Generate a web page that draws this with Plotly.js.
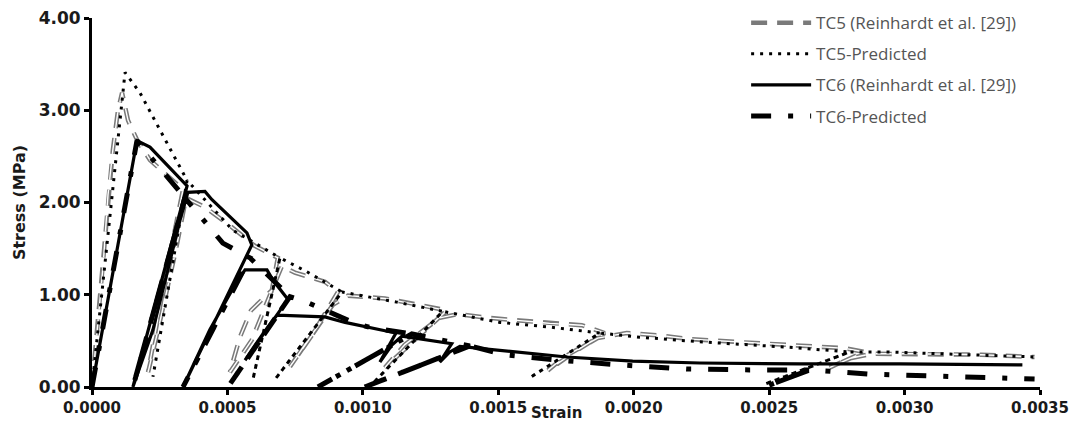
<!DOCTYPE html>
<html>
<head>
<meta charset="utf-8">
<script src="https://cdn.plot.ly/plotly-3.0.1.min.js"></script>
<style>html,body{margin:0;padding:0;background:#fff;}#chart{width:1072px;height:432px;}</style>
</head>
<body>
<div id="chart"></div>
<script>
// TC5 (Reinhardt et al. [29]) - experimental, cyclic
const tc5ExpStrain = [0, 0.000018, 0.000041, 0.000059, 0.000077, 0.000096, 0.000111, 0.000133, 0.000166, 0.000214, 0.000277, 0.000336, 0.000269, 0.000207, 0.000244, 0.000310, 0.000347, 0.000417, 0.000509, 0.000601, 0.000686, 0.000664, 0.000587, 0.000546, 0.000509, 0.000590, 0.000649, 0.000701, 0.000749, 0.000860, 0.000908, 0.000812, 0.000731, 0.000786, 0.000889, 0.000945, 0.001081, 0.001192, 0.001310, 0.001210, 0.001081, 0.001155, 0.001284, 0.001351, 0.001461, 0.001579, 0.001690, 0.001808, 0.001893, 0.001782, 0.001683, 0.001745, 0.001867, 0.001974, 0.002089, 0.002207, 0.002428, 0.002649, 0.002779, 0.002852, 0.002723, 0.002797, 0.002878, 0.003048, 0.003284, 0.003480];
const tc5ExpStress = [0, 0.62, 1.32, 2.08, 2.57, 3.00, 3.19, 2.89, 2.68, 2.46, 2.30, 2.14, 1.16, 0.16, 0.62, 1.49, 2.05, 1.95, 1.75, 1.53, 1.40, 1.05, 0.83, 0.54, 0.16, 0.51, 0.94, 1.31, 1.24, 1.14, 1.03, 0.56, 0.22, 0.46, 0.89, 0.99, 0.96, 0.90, 0.83, 0.56, 0.21, 0.46, 0.75, 0.79, 0.75, 0.72, 0.69, 0.67, 0.585, 0.38, 0.18, 0.33, 0.53, 0.585, 0.56, 0.52, 0.48, 0.44, 0.42, 0.38, 0.21, 0.31, 0.36, 0.36, 0.35, 0.325];

// TC5-Predicted
const tc5PredStrain = [0, 0.000122, 0.000177, 0.000351, 0.000225, 0.000351, 0.000520, 0.000609, 0.000694, 0.000594, 0.000694, 0.000793, 0.000923, 0.000675, 0.000923, 0.001125, 0.001295, 0.001037, 0.001295, 0.001506, 0.001690, 0.001875, 0.001616, 0.001875, 0.002022, 0.002244, 0.002576, 0.002797, 0.002483, 0.002797, 0.002934, 0.003487];
const tc5PredStress = [0, 3.41, 3.19, 2.24, 0.11, 2.24, 1.70, 1.55, 1.40, 0.08, 1.40, 1.25, 1.03, 0.08, 1.03, 0.92, 0.82, 0.04, 0.82, 0.70, 0.65, 0.585, 0.10, 0.585, 0.54, 0.49, 0.43, 0.38, 0.03, 0.38, 0.38, 0.325];

// TC6 (Reinhardt et al. [29]) - experimental, cyclic
const tc6ExpStrain = [0, 0.000166, 0.000214, 0.000351, 0.000151, 0.000225, 0.000280, 0.000325, 0.000354, 0.000417, 0.000443, 0.000572, 0.000590, 0.000336, 0.000435, 0.000528, 0.000565, 0.000646, 0.000668, 0.000705, 0.000723, 0.000565, 0.000627, 0.000683, 0.000860, 0.000934, 0.001037, 0.001122, 0.001063, 0.001107, 0.001144, 0.001328, 0.001284, 0.001321, 0.001358, 0.001506, 0.001753, 0.001996, 0.002244, 0.002613, 0.002982, 0.003435];
const tc6ExpStress = [0, 2.67, 2.60, 2.18, 0, 0.62, 1.27, 1.81, 2.11, 2.12, 2.03, 1.67, 1.54, 0, 0.62, 1.11, 1.27, 1.27, 1.16, 1.02, 0.95, 0.29, 0.56, 0.78, 0.76, 0.70, 0.64, 0.585, 0.27, 0.455, 0.55, 0.47, 0.27, 0.38, 0.44, 0.40, 0.325, 0.28, 0.26, 0.25, 0.25, 0.24];

// TC6-Predicted
const tc6PredStrain = [0, 0.000166, 0.000343, 0.000151, 0.000343, 0.000483, 0.000583, 0.000336, 0.000583, 0.000731, 0.000502, 0.000731, 0.000793, 0.000963, 0.001033, 0.001181, 0.000834, 0.001181, 0.001395, 0.001007, 0.001395, 0.001524, 0.001727, 0.001948, 0.002196, 0.002428, 0.002650, 0.002483, 0.002650, 0.002871, 0.003166, 0.003480];
const tc6PredStress = [0, 2.67, 2.05, 0, 2.05, 1.56, 1.40, 0, 1.40, 0.98, 0, 0.98, 0.92, 0.70, 0.64, 0.575, 0, 0.575, 0.445, 0, 0.445, 0.35, 0.29, 0.24, 0.195, 0.185, 0.185, 0, 0.185, 0.14, 0.12, 0.087];

const seriesNames = ['TC5 (Reinhardt et al. [29])', 'TC5-Predicted', 'TC6 (Reinhardt et al. [29])', 'TC6-Predicted'];
const xTickVals = [0, 0.0005, 0.0010, 0.0015, 0.0020, 0.0025, 0.0030, 0.0035];
const xTickText = ['0.0000', '0.0005', '0.0010', '0.0015', '0.0020', '0.0025', '0.0030', '0.0035'];
const yTickVals = [0, 1, 2, 3, 4];
const yTickText = ['0.00', '1.00', '2.00', '3.00', '4.00'];

const grayDash = '16px,10px';
const traces = [
  {x: tc5ExpStrain, y: tc5ExpStress, name: seriesNames[0], mode: 'lines', legendgroup: 'a',
   line: {color: '#7a7a7a', width: 4.5, dash: grayDash}},
  {x: tc5ExpStrain, y: tc5ExpStress, name: seriesNames[0], mode: 'lines', legendgroup: 'a', showlegend: false,
   line: {color: '#ffffff', width: 1.4, dash: grayDash}},
  {x: tc5PredStrain, y: tc5PredStress, name: seriesNames[1], mode: 'lines', legendgroup: 'b',
   line: {color: '#000000', width: 3, dash: '3px,6px'}},
  {x: tc6ExpStrain, y: tc6ExpStress, name: seriesNames[2], mode: 'lines', legendgroup: 'c',
   line: {color: '#000000', width: 3.2}},
  {x: tc6PredStrain, y: tc6PredStress, name: seriesNames[3], mode: 'lines', legendgroup: 'd',
   line: {color: '#000000', width: 5, dash: '20px,17px,5px,17px'}}
];

const tickFontY = {family: 'DejaVu Sans', size: 17, weight: 'bold', color: '#1a1a1a'};
const tickFontX = {family: 'DejaVu Sans', size: 15, weight: 'bold', color: '#1a1a1a'};

const layout = {
  width: 1072, height: 432,
  margin: {l: 92, r: 32, t: 18, b: 45, autoexpand: false},
  paper_bgcolor: '#ffffff', plot_bgcolor: '#ffffff',
  showlegend: true,
  legend: {x: 0.69, y: 1.035, xanchor: 'left', yanchor: 'top', itemwidth: 60,
           traceorder: 'grouped', tracegroupgap: 6, bgcolor: 'rgba(0,0,0,0)',
           font: {family: 'Open Sans', size: 17, color: '#555555'}},
  xaxis: {range: [0, 0.0035], tickvals: xTickVals, ticktext: xTickText, showgrid: false, zeroline: false,
          showline: true, linecolor: '#000', linewidth: 3, ticks: 'outside', ticklen: 5, tickwidth: 3, tickcolor: '#000',
          tickfont: tickFontX, fixedrange: true, automargin: false},
  yaxis: {range: [0, 4], tickvals: yTickVals, ticktext: yTickText, showgrid: false, zeroline: false,
          showline: true, linecolor: '#000', linewidth: 3, ticks: 'outside', ticklen: 5, tickwidth: 3, tickcolor: '#000',
          tickfont: tickFontY, fixedrange: true, automargin: false,
          title: {text: 'Stress (MPa)', font: {family: 'DejaVu Sans', size: 16, weight: 'bold', color: '#1a1a1a'}, standoff: 10}},
  xaxis2: {overlaying: 'x', anchor: 'y', side: 'bottom', range: [0, 0.0035], tickvals: xTickVals, showticklabels: false,
           showgrid: false, zeroline: false, showline: false, ticks: 'inside', ticklen: 5, tickwidth: 3, tickcolor: '#000', automargin: false},
  yaxis2: {overlaying: 'y', anchor: 'x', side: 'left', range: [0, 4], tickvals: yTickVals, showticklabels: false,
           showgrid: false, zeroline: false, showline: false, ticks: 'inside', ticklen: 5, tickwidth: 3, tickcolor: '#000', automargin: false},
  annotations: [{text: 'Strain', xref: 'paper', yref: 'paper', x: 0.49, y: -0.07, xanchor: 'center', yanchor: 'middle',
                 showarrow: false, font: {family: 'DejaVu Sans', size: 15, weight: 'bold', color: '#1a1a1a'}}]
};

Plotly.newPlot('chart', traces, layout, {displayModeBar: false, staticPlot: true});
</script>
</body>
</html>
